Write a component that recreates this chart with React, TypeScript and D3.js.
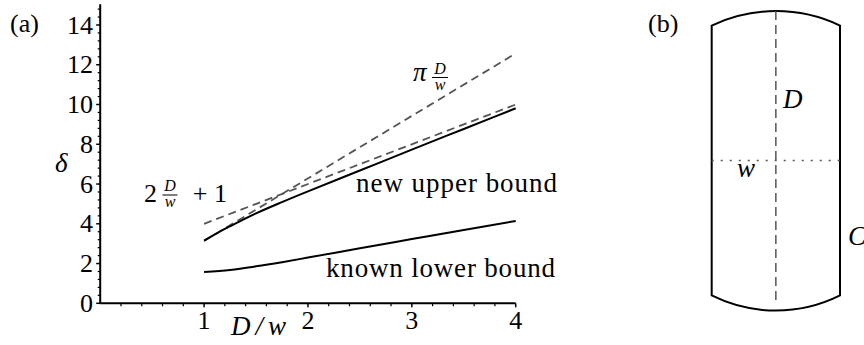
import React from 'react';
import * as d3 from 'd3';

// ---- data ----
const upperX = [1, 1.1, 1.2, 1.3, 1.4, 1.5, 1.75, 2, 2.5, 3, 3.5, 4];
const upperY = [3.15, 3.45, 3.74, 4.01, 4.27, 4.52, 5.09, 5.63, 6.68, 7.73, 8.77, 9.81];
const lowerX = [1, 1.25, 1.5, 1.75, 2, 2.5, 3, 3.5, 4];
const lowerY = [1.57, 1.68, 1.86, 2.07, 2.3, 2.77, 3.23, 3.69, 4.14];
const dashX = [1, 4];
const piLineY = [3.14, 12.57];
const linLineY = [4.0, 10.0];
const xTickValues = [1, 2, 3, 4];
const yTickValues = [0, 2, 4, 6, 8, 10, 12, 14];

// panel (b) schematic, in units of w
const shapeHalfW = 0.5;
const cornerH = 1.052;
const apexTop = 1.165;
const apexBot = 1.17;

const FONT = '"Liberation Serif"';

export default function App() {
  const x = d3.scaleLinear().domain([0, 4]).range([100.2, 515.7]);
  const y = d3.scaleLinear().domain([0, 14]).range([303.3, 25.0]);

  const line = d3
    .line<[number, number]>()
    .x((d) => x(d[0]))
    .y((d) => y(d[1]))
    .curve(d3.curveMonotoneX);

  const upper = line(upperX.map((v, i) => [v, upperY[i]]) as [number, number][]);
  const lower = line(lowerX.map((v, i) => [v, lowerY[i]]) as [number, number][]);
  const piL = line(dashX.map((v, i) => [v, piLineY[i]]) as [number, number][]);
  const linL = line(dashX.map((v, i) => [v, linLineY[i]]) as [number, number][]);

  const xMinor = d3.range(1, 20).map((i) => i * 0.2).filter((v) => Math.abs(v - Math.round(v)) > 1e-6);
  const yMinor = d3.range(1, 38).map((i) => i * 0.4).filter((v) => Math.abs(v / 2 - Math.round(v / 2)) > 1e-6);

  // panel b
  const pxPerUnit = 128.3;
  const cx = 775.85;
  const cy = 160.5;
  const sx = d3.scaleLinear().domain([-shapeHalfW, shapeHalfW]).range([cx - pxPerUnit / 2, cx + pxPerUnit / 2]);
  const sy = d3.scaleLinear().domain([1, -1]).range([cy - pxPerUnit, cy + pxPerUnit]);
  const L = sx(-shapeHalfW);
  const R = sx(shapeHalfW);
  const hw = (R - L) / 2;
  const sagT = (apexTop - cornerH) * pxPerUnit;
  const sagB = (apexBot - cornerH) * pxPerUnit;
  const rT = (hw * hw + sagT * sagT) / (2 * sagT);
  const rB = (hw * hw + sagB * sagB) / (2 * sagB);
  const shapePath = `M${L},${sy(cornerH)} A${rT},${rT} 0 0 1 ${R},${sy(cornerH)} L${R},${sy(-cornerH)} A${rB},${rB} 0 0 1 ${L},${sy(-cornerH)} Z`;

  const x0 = x(0);
  const y0 = y(0);
  const ts = { fontFamily: FONT } as React.CSSProperties;
  const ti = { fontFamily: FONT, fontStyle: 'italic' } as React.CSSProperties;

  return (
    <svg width={864} height={345} style={{ position: 'absolute', left: 0, top: 0, background: '#fff' }}>
      <rect x={0} y={0} width={864} height={345} fill="#fff" />
      {/* axes */}
      <line x1={x0} y1={y0} x2={x(4)} y2={y0} stroke="#000" strokeWidth={2} />
      <line x1={x0} y1={y0} x2={x0} y2={y(15.05)} stroke="#000" strokeWidth={2} />
      {xTickValues.map((t) => (
        <line key={'xt' + t} x1={x(t)} x2={x(t)} y1={y0} y2={y0 + 4} stroke="#000" strokeWidth={1.5} />
      ))}
      {xMinor.map((t) => (
        <line key={'xm' + t} x1={x(t)} x2={x(t)} y1={y0} y2={y0 + 3} stroke="#000" strokeWidth={1.2} />
      ))}
      {yTickValues.map((t) => (
        <line key={'yt' + t} x1={x0 - 4} x2={x0} y1={y(t)} y2={y(t)} stroke="#000" strokeWidth={1.5} />
      ))}
      {yMinor.map((t) => (
        <line key={'ym' + t} x1={x0 - 2.5} x2={x0} y1={y(t)} y2={y(t)} stroke="#000" strokeWidth={1.2} />
      ))}
      {yTickValues.map((t) => (
        <text key={'yl' + t} x={93} y={y(t) + 8.5} fontSize={26} textAnchor="end" style={ts}>
          {t}
        </text>
      ))}
      {xTickValues.map((t) => (
        <text key={'xl' + t} x={x(t)} y={329} fontSize={26} textAnchor="middle" style={ts}>
          {t}
        </text>
      ))}
      <text x={231} y={335} fontSize={27} textLength={55} lengthAdjust="spacing" style={ti}>
        D/w
      </text>
      <text x={55} y={172} fontSize={27} style={ti}>
        δ
      </text>
      <text x={10} y={32} fontSize={26} style={ts}>
        (a)
      </text>

      {/* curves */}
      <path d={piL || ''} fill="none" stroke="#555" strokeWidth={1.8} strokeDasharray="8,5" />
      <path d={linL || ''} fill="none" stroke="#555" strokeWidth={1.8} strokeDasharray="8,5" />
      <path d={upper || ''} fill="none" stroke="#000" strokeWidth={2} />
      <path d={lower || ''} fill="none" stroke="#000" strokeWidth={2} />

      {/* labels */}
      <text x={356} y={192} fontSize={27} textLength={201} lengthAdjust="spacing" style={ts}>
        new upper bound
      </text>
      <text x={326} y={277} fontSize={27} textLength={229} lengthAdjust="spacing" style={ts}>
        known lower bound
      </text>

      {/* 2 D/w + 1 */}
      <text x={144} y={201.5} fontSize={26} style={ts}>2</text>
      <text x={170} y={191} fontSize={16} textAnchor="middle" style={ti}>D</text>
      <line x1={162.5} x2={177.5} y1={195} y2={195} stroke="#000" strokeWidth={1} />
      <text x={170} y={207} fontSize={16} textAnchor="middle" style={ti}>w</text>
      <text x={200} y={201.5} fontSize={26} textAnchor="middle" style={ts}>+</text>
      <text x={214} y={201.5} fontSize={26} style={ts}>1</text>

      {/* pi D/w */}
      <text x={413} y={81} fontSize={27} style={ti}>π</text>
      <text x={440} y={74} fontSize={16} textAnchor="middle" style={ti}>D</text>
      <line x1={432} x2={448} y1={77.5} y2={77.5} stroke="#000" strokeWidth={1} />
      <text x={440} y={89.5} fontSize={16} textAnchor="middle" style={ti}>w</text>

      {/* panel (b) */}
      <text x={648} y={32} fontSize={26} style={ts}>
        (b)
      </text>
      <path d={shapePath} fill="none" stroke="#000" strokeWidth={2} />
      <line x1={cx} x2={cx} y1={sy(apexTop)} y2={sy(-apexBot) - 10} stroke="#555" strokeWidth={1.5} strokeDasharray="9,5" />
      <line x1={L} x2={R} y1={sy(0)} y2={sy(0)} stroke="#555" strokeWidth={1.5} strokeDasharray="2,7" />
      <text x={783} y={108} fontSize={27} style={ti}>D</text>
      <text x={737} y={177} fontSize={27} style={ti}>w</text>
      <text x={848} y={245} fontSize={27} style={ti}>C</text>
    </svg>
  );
}
